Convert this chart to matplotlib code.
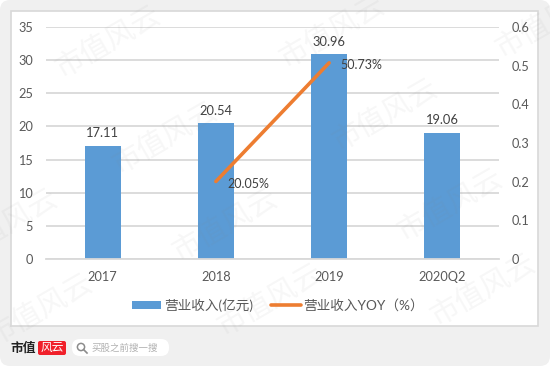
import numpy as np
import matplotlib
matplotlib.use("Agg")
import matplotlib.pyplot as plt
from matplotlib.patches import Circle, FancyBboxPatch, Rectangle

plt.rcParams['font.family'] = ['Lato', 'Noto Sans CJK SC', 'DejaVu Sans']

categories = ["2017", "2018", "2019", "2020Q2"]
revenue = [17.11, 20.54, 30.96, 19.06]
yoy = [np.nan, 0.2005, 0.5073, np.nan]
left_ticks = [0, 5, 10, 15, 20, 25, 30, 35]
right_ticks = [0, 0.1, 0.2, 0.3, 0.4, 0.5, 0.6]
right_labels = ["0", "0.1", "0.2", "0.3", "0.4", "0.5", "0.6"]
bar_name = "营业收入(亿元)"
line_name = "营业收入YOY（%）"
watermark = "市值风云"
watermark_spots = [(108, 42), (332, 32), (548, 22), (165, 138), (385, 115),
                   (5, 225), (225, 225), (450, 205), (40, 310), (270, 300), (483, 290)]

TEXT = "#595959"
GRID = "#d9d9d9"

W, H = 550, 366
fig = plt.figure(figsize=(W / 100, H / 100), dpi=100, facecolor="white")

# page furniture, in pixel coordinates
bg = fig.add_axes([0, 0, 1, 1], zorder=0)
bg.set_xlim(0, W)
bg.set_ylim(H, 0)
bg.axis("off")
bg.add_patch(FancyBboxPatch((0, 0), W, H, boxstyle="round,pad=0,rounding_size=10",
                            fc="#f0f0f0", ec="none"))
bg.add_patch(Rectangle((11, 11), 527, 315, fc="white", ec="#d8d8d8", lw=1.2))
bg.text(10, 348, "市值", fontsize=9.2, fontweight="bold", color="#222222", va="center", ha="left")
bg.add_patch(FancyBboxPatch((38, 341), 28, 14, boxstyle="round,pad=0,rounding_size=2",
                            fc="#f0202a", ec="none"))
bg.text(52, 347.5, "风云", fontsize=8.5, style="italic", color="white", va="center", ha="center")
bg.add_patch(FancyBboxPatch((72, 339), 97, 17, boxstyle="round,pad=0,rounding_size=8",
                            fc="white", ec="none"))
bg.add_patch(Circle((81, 347), 3.6, fc="none", ec="#8c8c8c", lw=1.1))
bg.plot([83.6, 87], [349.6, 353], color="#8c8c8c", lw=1.2)
bg.text(92, 348, "买股之前搜一搜", fontsize=6.8, color="#b0b0b0", va="center", ha="left")

ax = fig.add_axes([46 / W, 1 - 259 / H, (499 - 46) / W, (259 - 27) / H], zorder=1)
ax.patch.set_alpha(0)
x = np.arange(len(categories))
bars = ax.bar(x, revenue, width=0.32, color="#5b9bd5", label=bar_name, zorder=2)
ax.set_xlim(-0.5, 3.5)
ax.set_ylim(0, 35)
ax.set_xticks(x, categories)
ax.set_yticks(left_ticks)
ax.grid(axis="y", color=GRID, lw=1.3, zorder=0)
ax.set_axisbelow(True)
ax.tick_params(length=0, labelsize=9.2, labelcolor=TEXT)
ax.tick_params(axis="x", pad=8.5)
ax.tick_params(axis="y", pad=9.5)
for s in ["top", "left", "right"]:
    ax.spines[s].set_visible(False)
ax.spines["bottom"].set_color(GRID)
ax.spines["bottom"].set_linewidth(1.3)

for xi, v in zip(x, revenue):
    ax.annotate(f"{v:.2f}", (xi, v), xytext=(0, 4.5), textcoords="offset points",
                ha="center", va="bottom", fontsize=9.3, color="#404040", zorder=5)

ax2 = ax.twinx()
ax2.patch.set_alpha(0)
line, = ax2.plot(x, yoy, color="#ed7d31", lw=2.6, label=line_name, zorder=3, solid_capstyle="round")
ax2.set_ylim(0, 0.6)
ax2.set_yticks(right_ticks, right_labels)
ax2.tick_params(length=0, labelsize=9.2, labelcolor=TEXT, pad=9)
for s in ax2.spines.values():
    s.set_visible(False)
for xi, v in zip(x, yoy):
    if not np.isnan(v):
        ax2.annotate(f"{v * 100:.2f}%", (xi, v), xytext=(8, -1.5), textcoords="offset points",
                     ha="left", va="center", fontsize=9, color="#404040", zorder=5)

fig.legend(handles=[bars, line], labels=[bar_name, line_name], ncol=2, frameon=False,
           loc="center", bbox_to_anchor=(278 / W, 1 - 305 / H), fontsize=9.8,
           labelcolor=TEXT, handlelength=2.15, handleheight=0.45, handletextpad=0.2,
           columnspacing=1.35)

# watermark on top of everything
top = fig.add_axes([0, 0, 1, 1], zorder=3)
top.set_xlim(0, W)
top.set_ylim(H, 0)
top.axis("off")
for wx, wy in watermark_spots:
    top.text(wx, wy, watermark, fontsize=21, rotation=30, color="#888888", alpha=0.07,
             ha="center", va="center", rotation_mode="anchor", clip_on=True)

fig.savefig("out.png", dpi=100)
